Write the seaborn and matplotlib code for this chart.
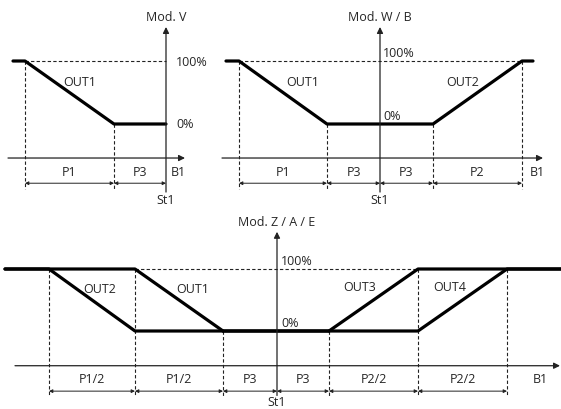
import matplotlib
matplotlib.use('Agg')
import matplotlib.pyplot as plt
import seaborn as sns

# ---- data (x: distance from St1, y: output %) ----
v_x = [-153, -141, -52, 0]
v_y = [100, 100, 0, 0]
v_bounds = [-141, -52, 0]
v_dims = ['P1', 'P3']

w_x = [-154, -141, -53, 53, 142, 153]
w_y = [100, 100, 0, 0, 100, 100]
w_bounds = [-141, -53, 0, 53, 142]
w_dims = ['P1', 'P3', 'P3', 'P2']

z_out2_x = [-272, -228, -142, -54]
z_out2_y = [100, 100, 0, 0]
z_out1_x = [-272, -142, -54, 52]
z_out1_y = [100, 100, 0, 0]
z_out3_x = [-54, 52, 141, 284]
z_out3_y = [0, 0, 100, 100]
z_out4_x = [52, 141, 230, 284]
z_out4_y = [0, 0, 100, 100]
z_bounds = [-228, -142, -54, 0, 52, 141, 230]
z_dims = ['P1/2', 'P1/2', 'P3', 'P3', 'P2/2', 'P2/2']

W, H = 561, 410
FS = 9
sns.set_style('white')
plt.rcParams['font.family'] = ['Open Sans', 'DejaVu Sans']

fig = plt.figure(figsize=(W / 100, H / 100), dpi=100)


def panel(px0, px1, py0, py1, st1_px, zero_py, full_py):
    '''axes placed in pixel box, x in px from St1, y in %'''
    ax = fig.add_axes([px0 / W, 1 - py1 / H, (px1 - px0) / W, (py1 - py0) / H])
    k = (zero_py - full_py) / 100.0
    ax.set_xlim(px0 - st1_px, px1 - st1_px)
    ax.set_ylim((zero_py - py1) / k, (zero_py - py0) / k)
    ax.axis('off')
    return ax


def axes_lines(ax, xa, yax_lo, yax_hi, xax_y):
    ax.annotate('', xy=(xa[1], xax_y), xytext=(xa[0], xax_y),
                arrowprops=dict(arrowstyle='-|>', lw=0.9, color='#222', mutation_scale=9,
                                shrinkA=0, shrinkB=0))
    ax.annotate('', xy=(0, yax_hi), xytext=(0, yax_lo),
                arrowprops=dict(arrowstyle='-|>', lw=0.9, color='#222', mutation_scale=9,
                                shrinkA=0, shrinkB=0))


def dashed_v(ax, xs, tops, bottom):
    for x, t in zip(xs, tops):
        ax.plot([x, x], [t, bottom], ls=(0, (3, 2)), lw=0.8, color='#222')


def dims(ax, bounds, labels, arr_y, lab_y):
    for a, b, lab in zip(bounds[:-1], bounds[1:], labels):
        ax.annotate('', xy=(b, arr_y), xytext=(a, arr_y),
                    arrowprops=dict(arrowstyle='<|-|>', lw=0.7, color='#222', mutation_scale=5,
                                    shrinkA=0, shrinkB=0))
        ax.text((a + b) / 2, lab_y, lab, ha='center', va='center', fontsize=FS)


def thick(ax, x, y):
    sns.lineplot(x=x, y=y, ax=ax, color='black', lw=2.3, sort=False, estimator=None)


# ---- panel Mod. V ----
ax1 = panel(0, 200, 0, 210, 166, 125, 62)
ax1.plot([-141, 0], [100, 100], ls=(0, (3, 2)), lw=0.8, color='#222')
dashed_v(ax1, v_bounds[:2], [100, 0], -103)
axes_lines(ax1, (-158, 19), -108, 154, -54)
thick(ax1, v_x, v_y)
dims(ax1, v_bounds, v_dims, -94, -75)
ax1.text(0, 170, 'Mod. V', ha='center', va='center', fontsize=FS)
ax1.text(10, 100, '100%', ha='left', va='center', fontsize=FS)
ax1.text(10, 0, '0%', ha='left', va='center', fontsize=FS)
ax1.text(-86, 68, 'OUT1', ha='center', va='center', fontsize=FS)
ax1.text(12, -75, 'B1', ha='center', va='center', fontsize=FS)
ax1.text(0, -120, 'St1', ha='center', va='center', fontsize=FS)

# ---- panel Mod. W / B ----
ax2 = panel(200, 561, 0, 210, 380, 125, 62)
ax2.plot([-141, 142], [100, 100], ls=(0, (3, 2)), lw=0.8, color='#222')
dashed_v(ax2, [-141, -53, 53, 142], [100, 0, 0, 100], -103)
axes_lines(ax2, (-158, 163), -108, 154, -54)
thick(ax2, w_x, w_y)
dims(ax2, w_bounds, w_dims, -94, -75)
ax2.text(0, 170, 'Mod. W / B', ha='center', va='center', fontsize=FS)
ax2.text(3, 103, '100%', ha='left', va='bottom', fontsize=FS)
ax2.text(3, 3, '0%', ha='left', va='bottom', fontsize=FS)
ax2.text(-77, 68, 'OUT1', ha='center', va='center', fontsize=FS)
ax2.text(83, 68, 'OUT2', ha='center', va='center', fontsize=FS)
ax2.text(157, -75, 'B1', ha='center', va='center', fontsize=FS)
ax2.text(0, -120, 'St1', ha='center', va='center', fontsize=FS)

# ---- panel Mod. Z / A / E ----
ax3 = panel(0, 561, 210, 410, 277, 332, 270)
ax3.plot([-142, 141], [100, 100], ls=(0, (3, 2)), lw=0.8, color='#222')
dashed_v(ax3, [-228, -142, -54, 52, 141, 230], [100, 100, 0, 0, 100, 100], -105)
axes_lines(ax3, (-262, 283), -104, 160, -56)
for xs, ys in [(z_out2_x, z_out2_y), (z_out1_x, z_out1_y),
               (z_out3_x, z_out3_y), (z_out4_x, z_out4_y)]:
    thick(ax3, xs, ys)
dims(ax3, z_bounds, z_dims, -97, -76)
ax3.text(0, 177, 'Mod. Z / A / E', ha='center', va='center', fontsize=FS)
ax3.text(4, 103, '100%', ha='left', va='bottom', fontsize=FS)
ax3.text(4, 3, '0%', ha='left', va='bottom', fontsize=FS)
ax3.text(-177, 68, 'OUT2', ha='center', va='center', fontsize=FS)
ax3.text(-84, 68, 'OUT1', ha='center', va='center', fontsize=FS)
ax3.text(83, 71, 'OUT3', ha='center', va='center', fontsize=FS)
ax3.text(173, 71, 'OUT4', ha='center', va='center', fontsize=FS)
ax3.text(263, -76, 'B1', ha='center', va='center', fontsize=FS)
ax3.text(0, -114, 'St1', ha='center', va='center', fontsize=FS)

fig.savefig('out.png', dpi=100)
